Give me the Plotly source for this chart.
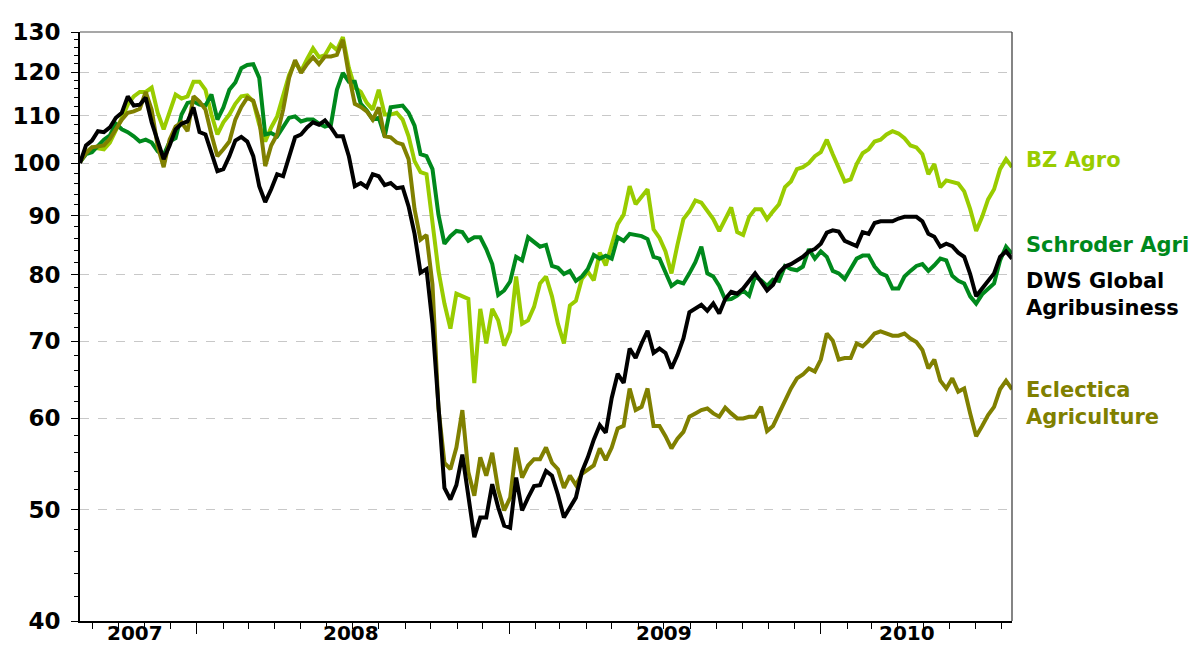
import pandas as pd
import plotly.graph_objects as go

# Weekly observations (Fridays), Aug 2007 - Aug 2010, indexed to 100 at start
dates = pd.date_range("2007-08-17", periods=157, freq="7D")

bz_agro = [
    100.2, 102.2, 103.2, 103.0, 102.8, 104.2, 106.6, 109.5, 112.4, 114.3,
    115.3, 115.3, 116.3, 110.6, 107.0, 110.9, 114.7, 113.8, 114.3, 117.7,
    117.7, 115.8, 110.2, 105.9, 108.5, 110.2, 112.6, 114.3, 114.5, 113.1,
    108.0, 104.4, 107.4, 109.8, 114.3, 119.3, 122.4, 120.2, 123.1, 125.8,
    123.6, 124.1, 126.7, 125.4, 128.7, 121.0, 116.3, 115.3, 112.8, 111.3,
    115.8, 110.2, 110.2, 110.6, 109.1, 105.5, 100.4, 98.2, 97.8, 88.5,
    80.6, 75.5, 71.8, 77.0, 76.6, 76.2, 64.4, 74.7, 69.7, 74.7,
    73.0, 69.4, 71.4, 79.7, 72.5, 73.0, 75.0, 78.6, 79.7, 76.6,
    72.5, 69.7, 75.2, 75.9, 79.3, 80.5, 79.1, 83.6, 81.5, 85.1,
    88.5, 90.2, 95.5, 92.1, 93.6, 94.9, 87.6, 86.1, 83.8, 80.2,
    84.9, 89.4, 90.8, 92.8, 92.4, 90.8, 89.4, 87.3, 89.4, 91.5,
    87.1, 86.6, 89.8, 91.2, 91.2, 89.4, 90.8, 92.1, 95.3, 96.4,
    98.8, 99.2, 100.0, 101.4, 102.2, 104.8, 101.8, 98.8, 96.4, 96.8,
    99.8, 102.0, 102.8, 104.4, 104.8, 105.9, 106.6, 106.1, 105.1, 103.6,
    103.2, 101.8, 97.8, 99.8, 95.3, 96.6, 96.2, 96.0, 94.5, 91.2,
    87.3, 89.8, 93.0, 94.9, 98.8, 100.8, 99.2,
]

schroder_agri = [
    100.2, 101.8, 102.2, 103.4, 104.8, 105.7, 108.2, 107.0, 106.4, 105.5,
    104.4, 104.8, 104.2, 102.4, 101.6, 104.4, 105.1, 110.2, 112.8, 113.1,
    112.4, 112.2, 114.7, 109.1, 111.8, 115.8, 117.5, 120.9, 121.7, 121.9,
    118.6, 105.9, 106.2, 105.5, 107.6, 109.5, 109.8, 108.7, 109.1, 109.1,
    108.2, 107.6, 108.0, 115.8, 119.8, 117.7, 117.7, 112.6, 111.1, 109.1,
    109.5, 105.5, 111.8, 112.0, 112.2, 110.6, 107.8, 101.8, 101.4, 98.8,
    90.2, 85.1, 86.4, 87.3, 87.1, 85.6, 86.2, 86.2, 84.2, 81.7,
    76.8, 77.5, 78.9, 82.9, 82.3, 86.2, 85.4, 84.6, 84.9, 81.4,
    81.1, 80.1, 80.6, 79.0, 79.7, 80.9, 83.2, 82.6, 83.1, 82.6,
    86.2, 85.6, 86.8, 86.6, 86.4, 85.9, 82.9, 82.6, 80.2, 78.2,
    78.9, 78.6, 80.2, 82.0, 84.6, 80.2, 79.7, 78.2, 76.1, 76.2,
    76.7, 77.5, 76.7, 79.7, 79.1, 78.2, 79.2, 79.0, 81.4, 80.9,
    80.7, 81.3, 84.2, 82.6, 83.8, 82.9, 80.6, 80.2, 79.3, 80.9,
    82.6, 83.1, 83.1, 81.3, 80.2, 79.8, 77.8, 77.8, 79.7, 80.6,
    81.4, 81.7, 80.6, 81.5, 82.6, 82.3, 79.8, 79.0, 78.6, 76.6,
    75.5, 76.9, 77.8, 78.6, 82.3, 84.6, 83.4,
]

dws_global_agribusiness = [
    100.0, 103.6, 104.6, 106.6, 106.4, 107.4, 109.5, 110.6, 114.3, 112.2,
    112.4, 114.0, 108.5, 104.8, 100.8, 103.6, 107.0, 108.2, 108.7, 111.8,
    106.4, 105.9, 101.8, 98.4, 98.8, 101.4, 104.6, 105.4, 104.4, 101.4,
    95.5, 92.5, 94.9, 97.8, 97.4, 101.2, 105.3, 105.9, 107.4, 108.5,
    108.0, 108.9, 107.4, 105.5, 105.5, 101.4, 95.5, 96.1, 95.3, 97.8,
    97.4, 95.7, 96.1, 95.1, 95.3, 91.7, 86.8, 80.3, 80.9, 72.5,
    61.2, 52.2, 51.0, 52.5, 55.8, 51.7, 47.3, 49.2, 49.2, 52.6,
    50.2, 48.4, 48.2, 53.3, 49.9, 51.2, 52.4, 52.5, 54.0, 53.5,
    51.5, 49.2, 50.2, 51.2, 53.9, 55.5, 57.5, 59.2, 58.3, 62.5,
    65.6, 64.4, 69.0, 67.7, 69.7, 71.5, 68.4, 69.0, 68.4, 66.3,
    68.1, 70.4, 74.2, 74.7, 75.3, 74.4, 75.5, 74.0, 76.2, 77.3,
    77.0, 77.8, 78.9, 80.2, 78.9, 77.5, 78.4, 80.3, 81.3, 81.7,
    82.3, 82.9, 83.8, 84.2, 85.1, 87.0, 87.4, 87.2, 85.6, 85.1,
    84.7, 87.1, 86.8, 88.7, 89.0, 89.0, 89.0, 89.5, 89.8, 89.8,
    89.8, 89.0, 86.8, 86.3, 84.6, 85.1, 84.7, 83.6, 82.9, 80.1,
    76.6, 77.8, 78.9, 80.2, 82.9, 83.8, 82.6,
]

eclectica_agriculture = [
    100.2, 102.0, 103.2, 103.4, 103.6, 105.0, 107.2, 109.1, 110.6, 110.9,
    111.5, 115.3, 111.3, 103.4, 99.2, 104.8, 107.6, 108.5, 106.6, 114.3,
    113.1, 111.3, 105.9, 101.4, 102.8, 104.4, 109.1, 111.9, 114.0, 113.3,
    109.1, 99.4, 103.6, 105.9, 111.3, 118.6, 122.9, 119.8, 121.9, 123.6,
    121.9, 123.8, 123.8, 124.2, 128.0, 119.3, 112.6, 111.9, 110.9, 109.1,
    111.8, 105.5, 105.3, 104.2, 103.8, 100.8, 91.2, 85.8, 86.6, 78.4,
    61.2, 54.9, 54.2, 56.6, 61.0, 53.9, 51.4, 55.5, 53.5, 56.0,
    52.0, 49.9, 51.2, 56.6, 53.3, 54.6, 55.3, 55.3, 56.6, 54.9,
    54.2, 52.2, 53.5, 52.5, 53.7, 54.2, 54.6, 56.5, 55.2, 56.6,
    58.8, 59.1, 63.7, 61.0, 61.4, 63.7, 59.1, 59.1, 57.9, 56.5,
    57.6, 58.4, 60.2, 60.6, 61.0, 61.2, 60.6, 60.2, 61.3, 60.6,
    60.0, 60.0, 60.2, 60.2, 61.4, 58.5, 59.1, 60.6, 62.2, 63.7,
    65.0, 65.5, 66.3, 65.9, 67.5, 71.1, 70.1, 67.5, 67.7, 67.7,
    69.7, 69.3, 70.1, 71.1, 71.4, 71.1, 70.8, 70.8, 71.1, 70.4,
    69.9, 68.8, 66.3, 67.5, 64.7, 63.7, 65.0, 63.3, 63.7, 60.6,
    57.9, 59.1, 60.4, 61.4, 63.6, 64.7, 63.6,
]

series_names = ["BZ Agro", "Schroder Agri", "DWS Global Agribusiness", "Eclectica Agriculture"]
series_labels = ["BZ Agro", "Schroder Agri", "DWS Global<br>Agribusiness", "Eclectica<br>Agriculture"]
series_values = [bz_agro, schroder_agri, dws_global_agribusiness, eclectica_agriculture]
series_colors = ["#99CC00", "#00891C", "#000000", "#808000"]
label_levels = [0.782, 0.6385, 0.555, 0.370]  # vertical placement of end labels (paper fraction)

y_major = [40, 50, 60, 70, 80, 90, 100, 110, 120, 130]
y_minor = [v for v in range(42, 130, 2) if v % 10 != 0]
year_labels = ["2007", "2008", "2009", "2010"]
year_label_pos = ["2007-10-20", "2008-06-30", "2009-07-01", "2010-04-12"]

FONT = "DejaVu Sans"

fig = go.Figure()
draw_order = [0, 1, 3, 2]
for k in draw_order:
    fig.add_trace(go.Scatter(
        x=dates, y=series_values[k], mode="lines", name=series_names[k],
        line=dict(color=series_colors[k], width=4),
        showlegend=False,
    ))

for k in range(4):
    fig.add_annotation(
        xref="paper", yref="paper", x=1, y=label_levels[k],
        xanchor="left", yanchor="middle", xshift=12,
        text=series_labels[k], showarrow=False, align="left",
        font=dict(family=FONT, size=21, color=series_colors[k], weight="bold"),
    )

for lab, pos in zip(year_labels, year_label_pos):
    fig.add_annotation(
        xref="x", yref="paper", x=pos, y=0, yanchor="top", yshift=2,
        text=lab, showarrow=False,
        font=dict(family=FONT, size=20, color="black", weight="bold"),
    )

# frame: grey top, dark right
fig.add_shape(type="line", xref="paper", yref="paper", x0=0, x1=1, y0=1, y1=1,
              line=dict(color="#8a8a8a", width=1.5))
fig.add_shape(type="line", xref="paper", yref="paper", x0=1, x1=1, y0=0, y1=1,
              line=dict(color="#333333", width=1.2))

fig.update_xaxes(
    type="date",
    range=[dates[0], dates[-1]],
    showgrid=False, zeroline=False,
    showline=True, linecolor="black", linewidth=2,
    ticks="outside", ticklen=11, tickwidth=1.2, tickcolor="black",
    dtick="M12", tick0="2008-01-01",
    showticklabels=False,
    minor=dict(ticks="outside", ticklen=6, tickwidth=1, tickcolor="black",
               dtick="M1", tick0="2008-01-01", showgrid=False),
)
fig.update_yaxes(
    type="log",
    range=[1.60206, 2.113943],
    tickvals=y_major, ticktext=[str(v) for v in y_major],
    tickfont=dict(family=FONT, size=23, color="black", weight="bold"),
    ticks="outside", ticklen=7, tickwidth=1.2, tickcolor="black",
    showline=True, linecolor="black", linewidth=2,
    showgrid=True, gridcolor="#C8C8C8", griddash="dash", gridwidth=1,
    zeroline=False,
    ticklabelstandoff=6,
    minor=dict(tickvals=y_minor, ticks="outside", ticklen=4, tickwidth=1,
               tickcolor="black", showgrid=False),
)

fig.update_layout(
    width=1202, height=646,
    margin=dict(l=80, r=190, t=32, b=22),
    plot_bgcolor="white", paper_bgcolor="white",
    font=dict(family=FONT),
)

fig.write_html("out.html", post_script="document.body.style.margin='0';",
               config={"displayModeBar": False})
